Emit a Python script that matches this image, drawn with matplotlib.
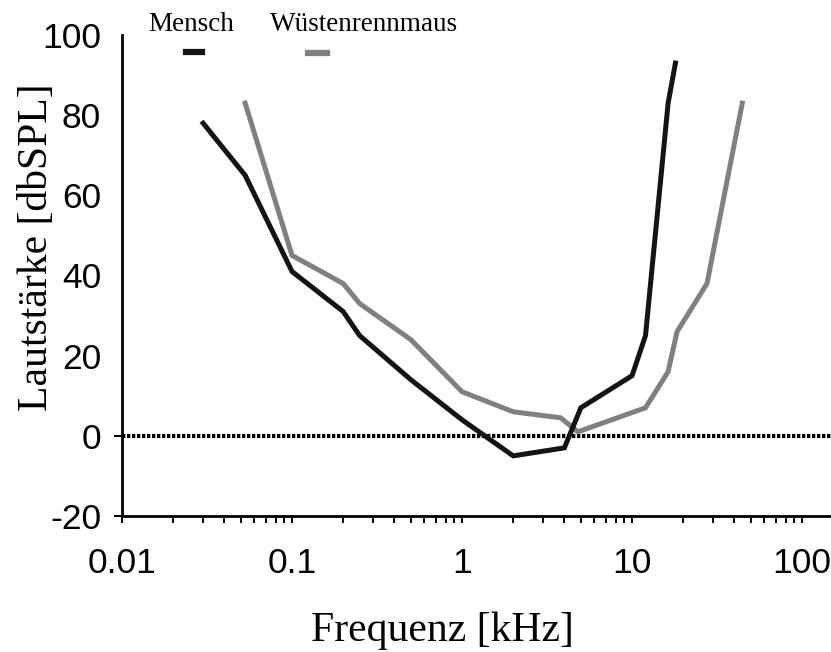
import matplotlib
matplotlib.use("Agg")
import matplotlib.pyplot as plt
from matplotlib.lines import Line2D
from matplotlib.ticker import NullFormatter, LogLocator

# hearing thresholds, frequency in kHz, level in dB SPL
mensch_f = [0.03, 0.053, 0.1, 0.2, 0.25, 0.5, 1, 2, 4, 5, 10, 12, 16.3, 18]
mensch_db = [78, 65, 41, 31, 25, 14, 4, -5, -3, 7, 15, 25, 83, 93]

maus_f = [0.053, 0.1, 0.2, 0.25, 0.5, 1, 2, 3.8, 4.8, 12, 16.3, 18.4, 27.6, 44.5]
maus_db = [83, 45, 38, 33, 24, 11, 6, 4.5, 1, 7, 16, 26, 38, 83]

x_ticks = [0.01, 0.1, 1, 10, 100]
x_ticklabels = ["0.01", "0.1", "1", "10", "100"]
y_ticks = [-20, 0, 20, 40, 60, 80, 100]

serif = "Liberation Serif"
sans = "Liberation Sans"

fig = plt.figure(figsize=(8.31, 6.52), dpi=100)
ax = fig.add_axes([122 / 831, 136 / 652, 709 / 831, 481 / 652])

ax.axhline(0, color="black", lw=3, linestyle=(0, (0.8, 0.4)), zorder=1)
ax.plot(mensch_f, mensch_db, color="#141414", lw=3.6, solid_joinstyle="miter", zorder=3)
ax.plot(maus_f, maus_db, color="#808080", lw=3.6, solid_joinstyle="miter", zorder=2)

ax.set_xscale("log")
ax.set_xlim(0.01, 148)
ax.set_ylim(-20, 100)

ax.set_xticks(x_ticks)
ax.set_xticklabels(x_ticklabels, fontfamily=sans, fontsize=25.5)
ax.xaxis.set_minor_locator(LogLocator(base=10, subs=range(2, 10)))
ax.xaxis.set_minor_formatter(NullFormatter())
ax.tick_params(axis="x", which="both", direction="out", length=5, width=1.4, pad=17)

ax.set_yticks(y_ticks)
ax.set_yticklabels([str(v) for v in y_ticks], fontfamily=sans, fontsize=25.5)
ax.tick_params(axis="y", direction="out", length=6, width=1.4, pad=9)
for t in ax.yaxis.get_major_ticks()[2:]:
    t.tick1line.set_visible(False)

for side in ["top", "right"]:
    ax.spines[side].set_visible(False)
for side in ["left", "bottom"]:
    ax.spines[side].set_linewidth(2)

fig.text(442 / 831, 1 - 641 / 652, "Frequenz [kHz]", family=serif, fontsize=30,
         ha="center", va="baseline")
fig.text(37 / 831, 1 - 247 / 652, "Lautstärke [dbSPL]", family=serif, fontsize=30,
         ha="center", va="center", rotation=90)

# key above the plot: name on top, short line sample below
fig.text(148 / 831, 1 - 31 / 652, "Mensch", family=serif, fontsize=19.5, va="baseline")
fig.text(270 / 831, 1 - 31 / 652, "Wüstenrennmaus", family=serif, fontsize=19.5, va="baseline")
fig.add_artist(Line2D([186 / 831, 202 / 831], [1 - 52 / 652] * 2, color="#141414",
                      lw=4.5, transform=fig.transFigure))
fig.add_artist(Line2D([308 / 831, 327 / 831], [1 - 53 / 652] * 2, color="#808080",
                      lw=4.5, transform=fig.transFigure))

fig.savefig("out.png", dpi=100)
